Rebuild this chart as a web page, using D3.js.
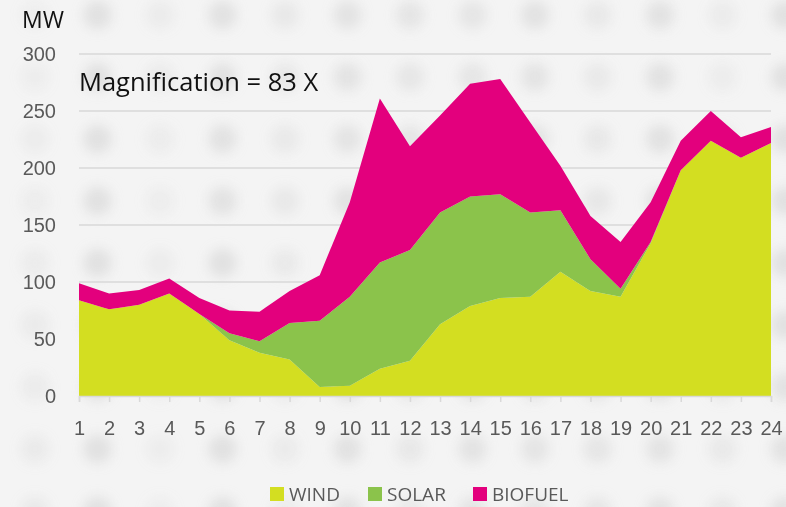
<!DOCTYPE html>
<html>
<head>
<meta charset="utf-8">
<script src="https://cdn.jsdelivr.net/npm/d3@7"></script>
<style>
  body { margin: 0; background: #f4f4f4; }
  svg { display: block; font-family: "Open Sans", "Liberation Sans", sans-serif; }
</style>
</head>
<body>
<svg id="chart" width="786" height="507"></svg>
<script>
// hourly generation, MW
var hours = d3.range(1, 25);
var wind = [84, 76, 80, 90, 72, 49, 38, 32, 8, 9, 24, 31, 63, 79, 86, 87, 109, 92, 87, 134, 198, 224, 209, 222];
var solar = [0, 0, 0, 0, 0, 6, 10, 32, 58, 78, 93, 97, 98, 96, 91, 74, 54, 28, 7, 1, 0, 0, 0, 0];
var biofuel = [15, 14, 13, 13, 14, 20, 26, 28, 40, 83, 144, 91, 85, 99, 101, 79, 39, 38, 41, 35, 26, 26, 18, 14];
var seriesNames = ["WIND", "SOLAR", "BIOFUEL"];
var colors = ["#d3de21", "#8bc34b", "#e3007d"];
var yTicks = [0, 50, 100, 150, 200, 250, 300];

var svg = d3.select("#chart");
var W = 786, H = 507;

// faint blurred dot backdrop
var defs = svg.append("defs");
defs.append("filter").attr("id", "blur")
  .attr("x", "-50%").attr("y", "-50%").attr("width", "200%").attr("height", "200%")
  .append("feGaussianBlur").attr("stdDeviation", 6);
var dots = [];
d3.range(0, 9).forEach(function(r) {
  d3.range(0, 13).forEach(function(c) {
    dots.push({ x: 35 + c * 62.5, y: 15 + r * 62, o: 0.15 + 0.35 * Math.abs(Math.sin(r * 3.1 + c * 1.7)) });
  });
});
svg.append("rect").attr("width", W).attr("height", H).attr("fill", "#f4f4f4");
svg.append("g").attr("filter", "url(#blur)")
  .selectAll("circle").data(dots).enter().append("circle")
  .attr("cx", function(d) { return d.x; })
  .attr("cy", function(d) { return d.y; })
  .attr("r", 14)
  .attr("fill", "#cfcfcf")
  .attr("opacity", function(d) { return d.o; });

var x = d3.scaleLinear().domain([1, 24]).range([79, 771]);
var y = d3.scaleLinear().domain([0, 300]).range([396, 54]);

// gridlines
svg.append("g").selectAll("line").data(yTicks.slice(1)).enter().append("line")
  .attr("x1", 79).attr("x2", 771)
  .attr("y1", function(d) { return y(d); })
  .attr("y2", function(d) { return y(d); })
  .attr("stroke", "#d9d9d9").attr("stroke-width", 1.5);

// stacked areas
var rows = hours.map(function(h, i) {
  return { hour: h, WIND: wind[i], SOLAR: solar[i], BIOFUEL: biofuel[i] };
});
var stack = d3.stack().keys(seriesNames)(rows);
var area = d3.area()
  .x(function(d) { return x(d.data.hour); })
  .y0(function(d) { return y(d[0]); })
  .y1(function(d) { return y(d[1]); });

svg.append("g").selectAll("path").data(stack).enter().append("path")
  .attr("d", area)
  .attr("fill", function(d, i) { return colors[i]; });

// x axis
var xAxis = d3.axisBottom(x).tickValues(hours).tickSize(6).tickPadding(19).tickFormat(d3.format("d"));
var gx = svg.append("g").attr("transform", "translate(0,396)").call(xAxis);
gx.select(".domain").attr("stroke", "#d9d9d9").attr("stroke-width", 1.5);
gx.selectAll(".tick line").attr("stroke", "#d9d9d9").attr("stroke-width", 1.5);
gx.selectAll("text").attr("fill", "#595959").style("font-size", "20px");

// y axis
var yAxis = d3.axisLeft(y).tickValues(yTicks).tickSize(0).tickPadding(23);
var gy = svg.append("g").attr("transform", "translate(79,0)").call(yAxis);
gy.select(".domain").remove();
gy.selectAll("text").attr("fill", "#595959").style("font-size", "20px");

svg.append("text").attr("x", 22).attr("y", 28)
  .attr("fill", "#111").style("font-size", "23px").text("MW");

svg.append("text").attr("x", 79).attr("y", 91)
  .attr("fill", "#111").style("font-size", "25.5px").text("Magnification = 83 X");

// legend
var legendX = [270, 368, 473];
var lg = svg.append("g").selectAll("g").data(seriesNames).enter().append("g")
  .attr("transform", function(d, i) { return "translate(" + legendX[i] + ",487)"; });
lg.append("rect").attr("width", 14).attr("height", 14)
  .attr("fill", function(d, i) { return colors[i]; });
lg.append("text").attr("x", 19).attr("y", 14)
  .attr("fill", "#595959").style("font-size", "19px")
  .text(function(d) { return d; });
</script>
</body>
</html>
